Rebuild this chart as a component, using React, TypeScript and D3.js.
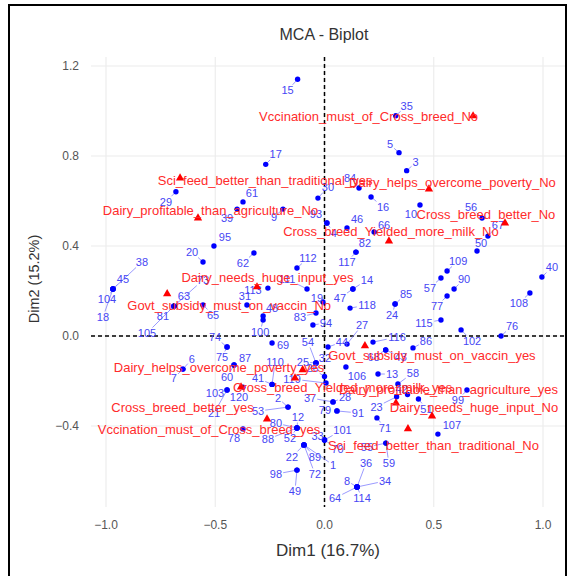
import React from "react";
import * as d3 from "d3";

// individuals (row points) - Dim1 / Dim2 coordinates
const indNames = [
  "15", "35", "5", "3", "17", "29", "61", "84", "16", "30",
  "56", "10", "67", "50", "46", "66", "93", "4", "9", "39",
  "95", "20", "62", "38", "45", "104", "18", "63", "81", "105",
  "73", "65", "31", "111", "112", "113", "19", "83", "94", "47",
  "14", "118", "117", "82", "85", "24", "109", "57", "90", "77",
  "115", "40", "108", "76", "102", "86", "116", "44", "27", "48",
  "100", "69", "54", "25", "32", "110", "41", "87", "60", "75",
  "74", "6", "7", "103", "21", "120", "2", "53", "119", "106",
  "13", "58", "37", "28", "79", "91", "12", "80", "52", "88",
  "101", "33", "70", "22", "89", "72", "1", "98", "49", "71",
  "59", "55", "36", "8", "34", "64", "114", "107", "99", "51",
  "42", "23", "78", "43", "68", "26"
];
const indX = [
  -0.123, 0.326, 0.341, 0.376, -0.269, -0.68, -0.373, 0.158, 0.213, -0.03,
  0.721, 0.437, 0.748, 0.698, 0.103, 0.227, 0.011, 0.011, -0.19, -0.4,
  -0.506, -0.556, -0.323, -0.968, -0.968, -0.968, -0.968, -0.689, -0.689, -0.689,
  -0.689, -0.556, -0.355, -0.08, -0.126, -0.259, -0.007, -0.039, -0.053, 0.13,
  0.13, 0.117, 0.144, 0.144, 0.323, 0.323, 0.561, 0.533, 0.593, 0.561,
  0.533, 0.995, 0.94, 0.808, 0.625, 0.405, 0.222, 0.016, 0.103, -0.281,
  -0.281, -0.24, -0.039, -0.039, -0.039, -0.24, -0.24, -0.414, -0.414, -0.446,
  -0.446, -0.648, -0.648, -0.446, -0.446, -0.373, -0.167, -0.167, 0.007, 0.098,
  0.245, 0.336, 0.039, 0.039, 0.057, 0.057, -0.126, -0.126, -0.126, -0.126,
  0.0, 0.0, 0.0, -0.094, -0.094, -0.094, -0.094, -0.126, -0.126, 0.24,
  0.281, 0.281, 0.149, 0.149, 0.149, 0.149, 0.149, 0.519, 0.652, 0.43,
  0.38, 0.33, -0.373, 0.28, 0.28, 0.0
];
const indY = [
  1.141, 0.979, 0.815, 0.735, 0.763, 0.641, 0.596, 0.658, 0.618, 0.613,
  0.524, 0.582, 0.444, 0.378, 0.48, 0.462, 0.502, 0.502, 0.564, 0.564,
  0.4, 0.329, 0.369, 0.209, 0.209, 0.209, 0.209, 0.133, 0.133, 0.133,
  0.133, 0.138, 0.138, 0.209, 0.302, 0.213, 0.151, 0.102, 0.049, 0.209,
  0.209, 0.124, 0.373, 0.373, 0.142, 0.142, 0.289, 0.258, 0.209, 0.178,
  0.071, 0.262, 0.191, 0.0, 0.027, -0.053, -0.027, -0.049, -0.036, 0.089,
  0.071, -0.031, -0.12, -0.12, -0.12, -0.215, -0.215, -0.129, -0.129, -0.049,
  -0.049, -0.147, -0.147, -0.24, -0.24, -0.227, -0.316, -0.316, -0.209, -0.138,
  -0.169, -0.213, -0.293, -0.293, -0.333, -0.333, -0.409, -0.409, -0.409, -0.409,
  -0.462, -0.462, -0.462, -0.484, -0.484, -0.484, -0.484, -0.596, -0.596, -0.364,
  -0.476, -0.476, -0.671, -0.671, -0.671, -0.671, -0.671, -0.436, -0.24, -0.28,
  -0.26, -0.27, -0.413, -0.062, -0.062, -0.18
];

// variable categories (column points)
const varNames = [
  "Vccination_must_of_Cross_breed_No", "Sci_feed_better_than_traditional_yes",
  "Dairy_helps_overcome_poverty_No", "Cross_breed_better_No",
  "Cross_breed_Yielded_more_milk_No", "Dairy_profitable_than_agriculture_No",
  "Dairy_needs_huge_input_yes", "Govt_subsidy_must_on_vaccin_No",
  "Govt_subsidy_must_on_vaccin_yes", "Dairy_helps_overcome_poverty_yes",
  "Cross_breed_Yielded_more_milk_yes", "Dairy_profitable_than_agriculture_yes",
  "Dairy_needs_huge_input_No", "Cross_breed_better_yes",
  "Vccination_must_of_Cross_breed_yes", "Sci_feed_better_than_traditional_No"
];
const varX = [0.68, -0.661, 0.478, 0.826, 0.295, -0.579, -0.309, -0.72, 0.185, -0.135, -0.1, 0.327, 0.492, -0.382, -0.263, 0.382];
const varY = [0.978, 0.702, 0.653, 0.502, 0.422, 0.524, 0.218, 0.187, -0.044, -0.187, -0.15, -0.298, -0.356, -0.227, -0.369, -0.413];

const xTicks = [-1, -0.5, 0, 0.5, 1];
const yTicks = [-0.4, 0, 0.4, 0.8, 1.2];

// repelled label offsets in px (label centre minus point)
const indNudge: Record<string, [number, number]> = {
  "15": [-10, 11], "35": [11, -10], "5": [-9, -8], "3": [9, -8], "17": [10, -10],
  "29": [-10, 10], "61": [9, -9], "84": [-9, -10], "16": [12, 10], "30": [10, -11],
  "56": [-11, -11], "10": [-9, 9], "67": [10, -11], "50": [4, -8], "46": [10, -9],
  "66": [10, -7], "93": [-11, -9], "4": [7, 10], "9": [-9, 8], "39": [-10, 9],
  "95": [11, -9], "20": [-11, -10], "62": [-11, 10], "38": [29, -27], "45": [10, -10],
  "104": [-6, 10], "18": [-10, 28], "63": [10, -10], "81": [-11, 10], "105": [-27, 27],
  "73": [29, -26], "65": [10, 10], "31": [-2, -9], "111": [-20, -10], "112": [11, -10],
  "113": [-15, 2], "19": [-6, -4], "83": [-16, 4], "94": [13, -2], "47": [-13, 9],
  "14": [14, -9], "118": [17, -3], "117": [-9, 10], "82": [9, -9], "85": [11, -10],
  "24": [-3, 11], "109": [11, -10], "57": [-11, 10], "90": [10, -10], "77": [-10, 10],
  "115": [-17, 3], "40": [10, -10], "108": [-11, 10], "76": [11, -10], "102": [11, 11],
  "86": [13, -7], "116": [24, -5], "44": [14, -5], "27": [15, -19], "48": [9, -8],
  "100": [-3, 12], "69": [11, 2], "54": [-8, -21], "25": [-13, -1], "32": [9, -5],
  "110": [3, -22], "41": [-14, -6], "87": [11, -7], "60": [-7, 12], "75": [-5, 10],
  "74": [-12, -10], "6": [9, -10], "7": [-9, 9], "103": [-12, 3], "21": [-13, 23],
  "120": [-4, 10], "2": [-10, -9], "53": [-30, 4], "119": [-34, -4], "106": [11, 9],
  "13": [14, 0], "58": [15, -11], "37": [-23, -4], "28": [12, -5], "79": [-12, -1],
  "91": [21, 2], "12": [1, -11], "80": [-21, -5], "52": [-7, 10], "88": [-29, 11],
  "101": [18, -10], "33": [-7, -4], "70": [13, 9], "22": [-12, 12], "89": [11, 12],
  "72": [11, 29], "1": [29, 20], "98": [-21, 4], "49": [-2, 21], "71": [8, 10],
  "59": [3, 20], "55": [-19, 4], "36": [9, -24], "8": [-10, -6], "34": [28, -6],
  "64": [-22, 11], "114": [5, 11], "107": [14, -9], "99": [-9, 10], "51": [8, 10],
  "42": [-6, -5], "23": [-20, 10], "78": [-9, 9], "43": [15, 7], "68": [-12, 7],
  "26": [-12, -8]
};
const varNudge: Record<string, [number, number]> = {
  "Vccination_must_of_Cross_breed_No": [-104.5, 0],
  "Sci_feed_better_than_traditional_yes": [85, 2],
  "Dairy_helps_overcome_poverty_No": [23.5, -7],
  "Cross_breed_better_No": [-19, -9],
  "Cross_breed_Yielded_more_milk_No": [2, -10],
  "Dairy_profitable_than_agriculture_No": [12.5, -8],
  "Dairy_needs_huge_input_yes": [10.5, -10],
  "Govt_subsidy_must_on_vaccin_No": [62, 12],
  "Govt_subsidy_must_on_vaccin_yes": [67, 10],
  "Dairy_helps_overcome_poverty_yes": [-76, -11],
  "Cross_breed_Yielded_more_milk_yes": [40, 18],
  "Dairy_profitable_than_agriculture_yes": [52.5, -14],
  "Dairy_needs_huge_input_No": [42, -9],
  "Cross_breed_better_yes": [-58.5, 20],
  "Vccination_must_of_Cross_breed_yes": [-58, 10],
  "Sci_feed_better_than_traditional_No": [25.5, 16.5]
};

const W = 571;
const H = 576;
const panel = { left: 91, right: 565, top: 57, bottom: 507 };
const FONT = "Liberation Sans, Arial, sans-serif";

const x = d3.scaleLinear().domain([-1, 1]).range([106, 543]);
const y = d3.scaleLinear().domain([-0.4, 1.2]).range([426, 66]);

function segment(px: number, py: number, lx: number, ly: number, hw: number, hh: number) {
  const dx = px - lx;
  const dy = py - ly;
  if (Math.abs(dx) <= hw + 4 && Math.abs(dy) <= hh + 4) return null;
  const t = Math.min(dx !== 0 ? hw / Math.abs(dx) : Infinity, dy !== 0 ? hh / Math.abs(dy) : Infinity);
  const ex = lx + dx * t;
  const ey = ly + dy * t;
  const len = Math.hypot(px - ex, py - ey);
  if (len < 5) return null;
  const k = (len - 2.5) / len;
  return [ex, ey, ex + (px - ex) * k, ey + (py - ey) * k];
}

export default function App() {
  const tri = d3.symbol().type(d3.symbolTriangle).size(30)();

  return (
    <svg width={W} height={H} style={{ position: "absolute", left: 0, top: 0 }} fontFamily={FONT}>
      <rect x={0} y={0} width={W} height={H} fill="#fff" />
      <rect x={9} y={5} width={557} height={580} fill="none" stroke="#000" strokeWidth={2} />

      <text x={324} y={40} textAnchor="middle" fontSize={16} fill="#333">MCA - Biplot</text>

      {/* grid */}
      {xTicks.map(t => (
        <line key={"gx" + t} x1={x(t)} x2={x(t)} y1={panel.top} y2={panel.bottom} stroke="#ebebeb" strokeWidth={1.1} />
      ))}
      {yTicks.map(t => (
        <line key={"gy" + t} x1={panel.left} x2={panel.right} y1={y(t)} y2={y(t)} stroke="#ebebeb" strokeWidth={1.1} />
      ))}

      {/* axis text */}
      {xTicks.map(t => (
        <text key={"tx" + t} x={x(t)} y={529} textAnchor="middle" fontSize={12} fill="#555">
          {d3.format(".1f")(t)}
        </text>
      ))}
      {yTicks.map(t => (
        <text key={"ty" + t} x={79} y={y(t) + 4} textAnchor="end" fontSize={12} fill="#555">
          {d3.format(".1f")(t)}
        </text>
      ))}
      <text x={328} y={556} textAnchor="middle" fontSize={17} fill="#333">Dim1 (16.7%)</text>
      <text transform="translate(39,279) rotate(-90)" textAnchor="middle" fontSize={14.5} fill="#333">
        Dim2 (15.2%)
      </text>

      {/* reference lines */}
      <line x1={x(0)} x2={x(0)} y1={panel.top} y2={panel.bottom} stroke="#000" strokeWidth={1.5} strokeDasharray="4,3" />
      <line x1={panel.left} x2={panel.right} y1={y(0)} y2={y(0)} stroke="#000" strokeWidth={1.5} strokeDasharray="4,3" />

      {/* individuals */}
      {indNames.map((n, i) => {
        const px = x(indX[i]);
        const py = y(indY[i]);
        const [ox, oy] = indNudge[n] || [8, -8];
        const s = segment(px, py, px + ox, py + oy, n.length * 3.1 + 1, 5.5);
        return s ? (
          <line key={"s" + n} x1={s[0]} y1={s[1]} x2={s[2]} y2={s[3]} stroke="#8080ff" strokeWidth={0.8} />
        ) : null;
      })}
      {indNames.map((n, i) => (
        <circle key={"c" + n} cx={x(indX[i])} cy={y(indY[i])} r={2.7} fill="#0000ff" />
      ))}
      {indNames.map((n, i) => {
        const [ox, oy] = indNudge[n] || [8, -8];
        return (
          <text key={"t" + n} x={x(indX[i]) + ox} y={y(indY[i]) + oy} dy="0.35em" textAnchor="middle" fontSize={11} fill="#4646f4">
            {n}
          </text>
        );
      })}

      {/* variable categories */}
      {varNames.map((n, i) => (
        <path key={"v" + n} d={tri || ""} transform={`translate(${x(varX[i])},${y(varY[i])})`} fill="#ff0000" />
      ))}
      {varNames.map((n, i) => {
        const [ox, oy] = varNudge[n];
        return (
          <text key={"vt" + n} x={x(varX[i]) + ox} y={y(varY[i]) + oy} dy="0.35em" textAnchor="middle" fontSize={13} fill="#ff2b2b">
            {n}
          </text>
        );
      })}
    </svg>
  );
}
